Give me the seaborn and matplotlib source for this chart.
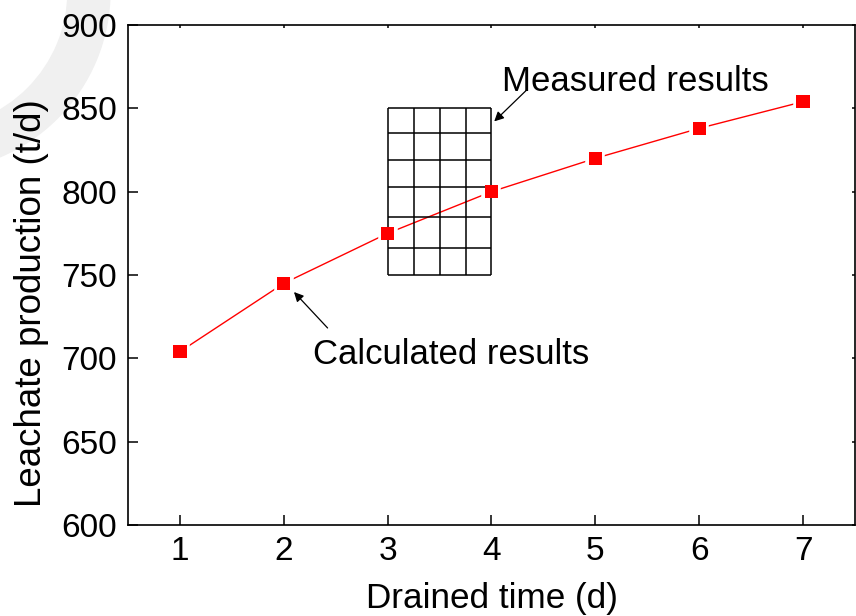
import seaborn as sns
import pandas as pd
import matplotlib.pyplot as plt
from matplotlib.patches import Wedge
from matplotlib.transforms import IdentityTransform

# data
drained_days = [1, 2, 3, 4, 5, 6, 7]
leachate_tpd = [704, 745, 775, 800, 820, 838, 854]

# "Measured results" table sketch (cell edges in data units)
table_x_edges = [3, 3.25, 3.5, 3.75, 4]
table_y_edges = [850, 835, 819, 803, 785, 766, 750]

sns.set_theme(style="ticks")
plt.rcParams['font.family'] = ['Liberation Sans', 'DejaVu Sans']
plt.rcParams['text.color'] = 'black'
plt.rcParams['axes.labelcolor'] = 'black'
plt.rcParams['xtick.color'] = 'black'
plt.rcParams['ytick.color'] = 'black'

df = pd.DataFrame({"day": drained_days, "prod": leachate_tpd})

fig = plt.figure(figsize=(8.56, 6.16), dpi=100)
ax = fig.add_axes([128 / 856, 1 - 525 / 616, 727 / 856, 500 / 616])

# faint grey ring in the top-left corner
fig.add_artist(Wedge((-70, 625), 180, 0, 360, width=42, color="#f0f0f0",
                     transform=IdentityTransform(), zorder=0))

# line with a white halo round the markers (gap in the line)
sns.lineplot(data=df, x="day", y="prod", ax=ax, color="red", lw=1,
             marker="s", markersize=9.4, markerfacecolor="red",
             markeredgecolor="white", markeredgewidth=4, zorder=2)

# table grid
ax.vlines(table_x_edges, table_y_edges[-1], table_y_edges[0], color="black", lw=1.1, zorder=3)
ax.hlines(table_y_edges, table_x_edges[0], table_x_edges[-1], color="black", lw=1.1, zorder=3)

# markers on top
sns.scatterplot(data=df, x="day", y="prod", ax=ax, marker="s", s=90,
                color="red", edgecolor="none", zorder=4, legend=False)

ax.set_xlim(0.5, 7.5)
ax.set_ylim(600, 900)
ax.set_xticks(drained_days)
ax.set_yticks(range(600, 901, 50))

ax.set_xlabel("Drained time (d)", fontsize=25.3, labelpad=11)
ax.set_ylabel("Leachate production (t/d)", fontsize=26.5)
ax.yaxis.set_label_coords(-0.109, 0.443)

ax.tick_params(direction="in", length=7, width=1.1, labelsize=24,
               top=True, right=True, pad=8)
for t in ax.xaxis.get_major_ticks() + ax.yaxis.get_major_ticks():
    t.tick2line.set_markersize(2.5)
for s in ax.spines.values():
    s.set_linewidth(1.2)
    s.set_color("black")

arrow = dict(arrowstyle="-|>", color="black", lw=0.9, mutation_scale=14)
ax.annotate("", xy=(2.08, 741), xytext=(2.44, 717), arrowprops=arrow)
ax.text(2.28, 702, "Calculated results", fontsize=25, va="center", ha="left")
ax.annotate("", xy=(4.007, 841), xytext=(4.355, 862), arrowprops=arrow)
ax.text(4.10, 866, "Measured results", fontsize=25, va="center", ha="left")

fig.savefig("out.png", dpi=100)
